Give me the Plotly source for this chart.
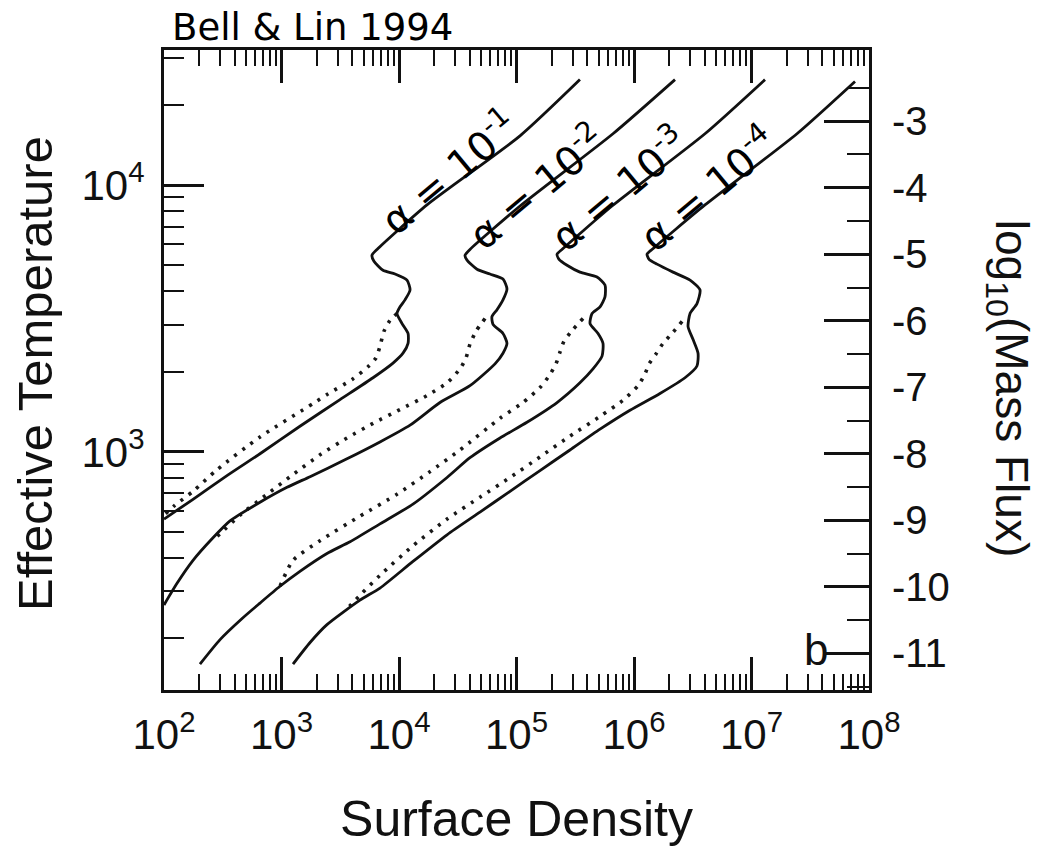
import numpy as np
import plotly.graph_objects as go

# ---------------------------------------------------------------
# Values, stored as log10(Surface Density) and
# log10(Effective Temperature)
# ---------------------------------------------------------------
alpha_texts = ["10<sup>-1</sup>", "10<sup>-2</sup>", "10<sup>-3</sup>", "10<sup>-4</sup>"]

# alpha = 1e-1
a1_solid_lsig = [5.540, 5.030, 4.238, 3.813, 3.770, 3.787, 3.864, 3.966, 4.068, 4.094, 4.051, 4.009,
                 3.983, 4.026, 4.077, 4.077, 4.034, 3.949, 3.779, 3.498, 3.157, 2.817, 2.536, 2.247, 2.000]
a1_solid_lT = [4.396, 4.185, 3.926, 3.759, 3.737, 3.715, 3.681, 3.667, 3.644, 3.607, 3.570, 3.544,
               3.519, 3.481, 3.444, 3.407, 3.370, 3.333, 3.278, 3.196, 3.096, 2.993, 2.911, 2.822, 2.748]
a1_dot_lsig = [3.983, 3.923, 3.872, 3.838, 3.804, 3.736, 3.609, 3.387, 3.268, 2.817, 2.451, 2.247, 2.094, 2.000]
a1_dot_lT = [3.519, 3.493, 3.452, 3.396, 3.352, 3.319, 3.274, 3.215, 3.181, 3.056, 2.933, 2.852, 2.800, 2.763]

# alpha = 1e-2
a2_solid_lsig = [6.349, 5.821, 5.030, 4.604, 4.562, 4.579, 4.664, 4.774, 4.885, 4.919, 4.885, 4.834,
                 4.791, 4.800, 4.885, 4.919, 4.885, 4.817, 4.604, 4.349, 4.094, 3.838, 3.540, 3.243,
                 3.047, 2.817, 2.562, 2.409, 2.247, 2.111, 2.000]
a2_solid_lT = [4.396, 4.193, 3.922, 3.759, 3.737, 3.719, 3.685, 3.667, 3.648, 3.611, 3.570, 3.533,
               3.507, 3.478, 3.444, 3.407, 3.370, 3.330, 3.248, 3.185, 3.100, 3.037, 2.970, 2.907,
               2.867, 2.811, 2.741, 2.674, 2.593, 2.507, 2.426]
a2_dot_lsig = [4.732, 4.655, 4.604, 4.570, 4.519, 4.409, 4.238, 4.009, 3.779, 3.557, 3.328, 3.098,
               2.877, 2.647, 2.477, 2.409]
a2_dot_lT = [3.500, 3.452, 3.404, 3.352, 3.311, 3.259, 3.211, 3.159, 3.107, 3.052, 2.989, 2.915,
             2.841, 2.763, 2.693, 2.670]

# alpha = 1e-3
a3_solid_lsig = [7.115, 6.604, 5.813, 5.387, 5.345, 5.362, 5.430, 5.540, 5.685, 5.753, 5.753, 5.711,
                 5.643, 5.626, 5.694, 5.736, 5.728, 5.651, 5.540, 5.345, 5.089, 4.860, 4.604, 4.409,
                 4.119, 3.838, 3.583, 3.387, 3.157, 2.987, 2.817, 2.672, 2.477, 2.306]
a3_solid_lT = [4.396, 4.193, 3.922, 3.759, 3.741, 3.722, 3.700, 3.674, 3.656, 3.626, 3.581, 3.544,
               3.519, 3.481, 3.444, 3.407, 3.359, 3.311, 3.259, 3.185, 3.111, 3.052, 2.978, 2.904,
               2.804, 2.730, 2.663, 2.619, 2.552, 2.496, 2.433, 2.378, 2.296, 2.204]
a3_dot_lsig = [5.566, 5.481, 5.404, 5.370, 5.336, 5.277, 5.200, 5.055, 4.860, 4.519, 4.264, 3.983,
               3.668, 3.328, 3.098, 2.987]
a3_dot_lT = [3.500, 3.459, 3.415, 3.374, 3.330, 3.285, 3.241, 3.185, 3.126, 3.007, 2.926, 2.841,
             2.759, 2.667, 2.593, 2.496]

# alpha = 1e-4
a4_solid_lsig = [7.881, 7.387, 6.604, 6.153, 6.111, 6.128, 6.196, 6.332, 6.477, 6.562, 6.536, 6.477,
                 6.460, 6.502, 6.545, 6.536, 6.434, 6.221, 5.966, 5.711, 5.455, 5.200, 4.945, 4.689,
                 4.409, 4.119, 3.838, 3.668, 3.387, 3.243, 3.098]
a4_solid_lT = [4.389, 4.193, 3.926, 3.759, 3.741, 3.722, 3.704, 3.674, 3.644, 3.607, 3.556, 3.519,
               3.470, 3.422, 3.370, 3.322, 3.278, 3.219, 3.156, 3.085, 3.007, 2.930, 2.852, 2.774,
               2.689, 2.589, 2.489, 2.444, 2.352, 2.285, 2.204]
a4_dot_lsig = [6.409, 6.332, 6.247, 6.187, 6.128, 6.094, 6.034, 5.906, 5.711, 5.455, 5.200, 4.945,
               4.689, 4.409, 4.119, 3.838, 3.685, 3.557]
a4_dot_lT = [3.489, 3.448, 3.407, 3.367, 3.330, 3.293, 3.248, 3.193, 3.133, 3.059, 2.981, 2.904,
             2.830, 2.748, 2.648, 2.537, 2.470, 2.411]

# label centres (log10 sigma, log10 T)
label_lsig = [4.420, 5.165, 5.862, 6.620]
label_lT = [4.055, 3.998, 3.991, 3.991]

# axis ticks
x_tickvals = [1e2, 1e3, 1e4, 1e5, 1e6, 1e7, 1e8]
x_ticktext = ["10<sup>2</sup>", "10<sup>3</sup>", "10<sup>4</sup>", "10<sup>5</sup>",
              "10<sup>6</sup>", "10<sup>7</sup>", "10<sup>8</sup>"]
y_tickvals = [1e3, 1e4]
y_ticktext = ["10<sup>3</sup>", "10<sup>4</sup>"]
mdot_tickvals = [-3, -4, -5, -6, -7, -8, -9, -10, -11]
mdot_ticktext = ["-3", "-4", "-5", "-6", "-7", "-8", "-9", "-10", "-11"]
mdot_minorvals = [-2.5, -3.5, -4.5, -5.5, -6.5, -7.5, -8.5, -9.5, -10.5, -11.5]

x_minor = [m * 10 ** k for k in range(2, 8) for m in range(2, 10)]
y_minor = [m * 10 ** k for k in range(2, 5) for m in range(2, 10)]

INK = "#111111"
fig = go.Figure()

curves = [
    (a1_solid_lsig, a1_solid_lT, a1_dot_lsig, a1_dot_lT),
    (a2_solid_lsig, a2_solid_lT, a2_dot_lsig, a2_dot_lT),
    (a3_solid_lsig, a3_solid_lT, a3_dot_lsig, a3_dot_lT),
    (a4_solid_lsig, a4_solid_lT, a4_dot_lsig, a4_dot_lT),
]
for s_x, s_y, d_x, d_y in curves:
    fig.add_trace(go.Scatter(x=10 ** np.array(d_x), y=10 ** np.array(d_y), mode="lines",
                             line=dict(color="#181818", width=3.6, dash="3px,7px",
                                       shape="spline", smoothing=0.6),
                             showlegend=False, hoverinfo="skip"))
    fig.add_trace(go.Scatter(x=10 ** np.array(s_x), y=10 ** np.array(s_y), mode="lines",
                             line=dict(color=INK, width=2.8, shape="spline", smoothing=0.6),
                             showlegend=False, hoverinfo="skip"))

# empty trace so the right-hand mass-flux axis is drawn
fig.add_trace(go.Scatter(x=[None], y=[None], yaxis="y2", mode="lines",
                         showlegend=False, hoverinfo="skip"))

axis_font = "Liberation Sans, Arial, Helvetica, sans-serif"

annotations = []
for t, lx, ly in zip(alpha_texts, label_lsig, label_lT):
    annotations.append(dict(x=lx, y=ly, xref="x", yref="y", text="α = " + t, showarrow=False,
                            textangle=-40, xanchor="center", yanchor="middle",
                            font=dict(family="DejaVu Sans", size=40, color="black")))

annotations.append(dict(x=(35 - 164) / 705, y=(698 - 378) / 648, xref="paper", yref="paper",
                        text="Effective Temperature", textangle=-90, showarrow=False,
                        xanchor="center", yanchor="middle",
                        font=dict(family=axis_font, size=49, color=INK)))
annotations.append(dict(x=(1008 - 164) / 705, y=(698 - 392) / 648, xref="paper", yref="paper",
                        text="log<sub>10</sub>(Mass Flux)", textangle=90, showarrow=False,
                        xanchor="center", yanchor="middle",
                        font=dict(family=axis_font, size=46, color=INK)))
annotations.append(dict(x=(816 - 164) / 705, y=(698 - 657) / 648, xref="paper", yref="paper",
                        text="b", showarrow=False, xanchor="center", yanchor="middle",
                        font=dict(family=axis_font, size=44, color=INK)))

fig.update_layout(
    width=1039, height=849,
    margin=dict(l=164, r=170, t=50, b=151),
    paper_bgcolor="white", plot_bgcolor="white",
    showlegend=False,
    font=dict(family=axis_font, color=INK),
    title=dict(text="Bell & Lin 1994", font=dict(family="DejaVu Sans", size=37, color="black"),
               x=172 / 1039, xanchor="left", xref="container",
               y=1 - 27 / 849, yref="container", yanchor="middle"),
    xaxis=dict(type="log", range=[2, 8], tickvals=x_tickvals, ticktext=x_ticktext,
               ticks="inside", ticklen=33, tickwidth=2.5, tickcolor=INK,
               showline=True, linewidth=3, linecolor=INK, mirror="ticks",
               showgrid=False, zeroline=False,
               tickfont=dict(size=42, family=axis_font, color=INK), ticklabelstandoff=6,
               minor=dict(tickvals=x_minor, ticks="inside", ticklen=16, tickwidth=2,
                          tickcolor=INK, showgrid=False),
               title=dict(text="Surface Density", font=dict(size=50, family=axis_font, color=INK),
                          standoff=44)),
    yaxis=dict(type="log", range=[2.107, 4.507], tickvals=y_tickvals, ticktext=y_ticktext,
               ticks="inside", ticklen=40, tickwidth=2.5, tickcolor=INK,
               showline=True, linewidth=3, linecolor=INK, mirror=False,
               showgrid=False, zeroline=False,
               tickfont=dict(size=42, family=axis_font, color=INK), ticklabelstandoff=8,
               minor=dict(tickvals=y_minor, ticks="inside", ticklen=20, tickwidth=2,
                          tickcolor=INK, showgrid=False)),
    yaxis2=dict(overlaying="y", anchor="x", side="right", range=[-11.55, -1.93],
                tickvals=mdot_tickvals, ticktext=mdot_ticktext,
                ticks="inside", ticklen=45, tickwidth=2.5, tickcolor=INK,
                showline=True, linewidth=3, linecolor=INK,
                showgrid=False, zeroline=False,
                tickfont=dict(size=40, family=axis_font, color=INK), ticklabelstandoff=12,
                minor=dict(tickvals=mdot_minorvals, ticks="inside", ticklen=22, tickwidth=2,
                           tickcolor=INK, showgrid=False)),
    annotations=annotations,
)

fig.write_html("out.html")
